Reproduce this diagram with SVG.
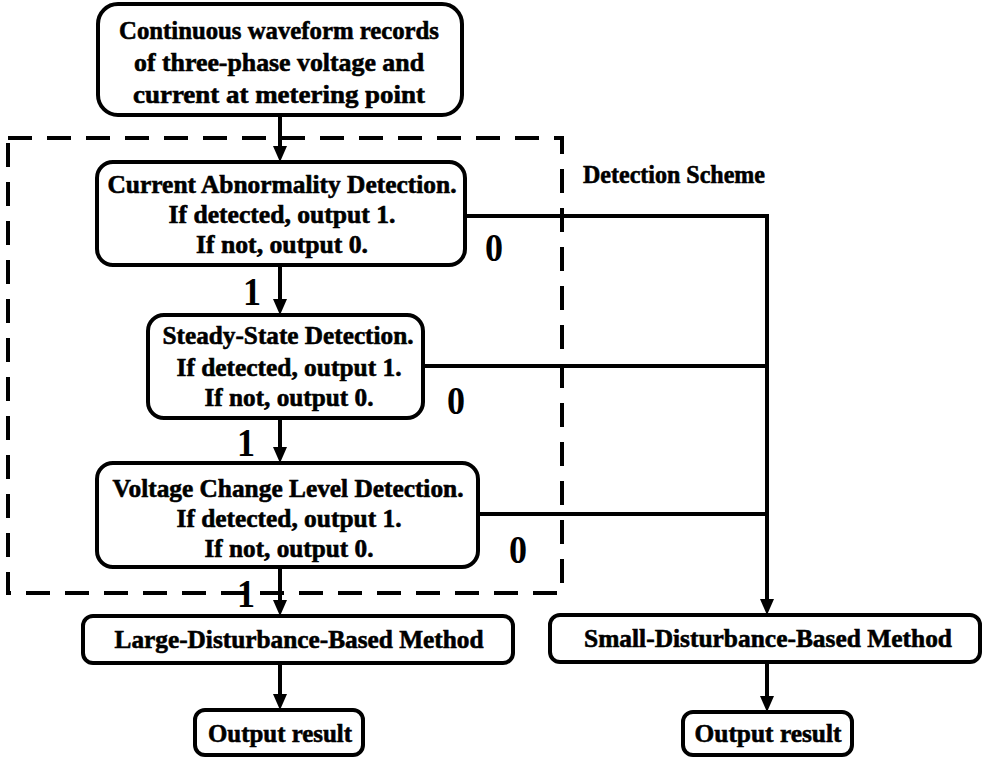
<svg xmlns="http://www.w3.org/2000/svg" width="983" height="757" viewBox="0 0 983 757">
<defs>
<style>
.box{fill:#fff;stroke:#000;stroke-width:4}
.t{font-family:"Liberation Serif","Times New Roman",serif;font-weight:bold;font-size:26px;fill:#000;stroke:#000;stroke-width:0.6;text-anchor:middle}
.lbl{font-family:"Liberation Serif","Times New Roman",serif;font-weight:bold;font-size:40px;fill:#000;text-anchor:middle}
.c{fill:none;stroke:#000;stroke-width:4}
.dash{fill:none;stroke:#000;stroke-width:4;stroke-dasharray:24 15}
</style>
<marker id="ah" viewBox="0 0 16 14" refX="10" refY="7" markerWidth="16" markerHeight="14" markerUnits="userSpaceOnUse" orient="auto">
<path d="M0,0 L16,7 L0,14 z" fill="#000"/>
</marker>
</defs>
<rect width="983" height="757" fill="#fff"/>
<g id="scheme">
<rect class="dash" x="8" y="138" width="554" height="455"/>
<text class="t" x="583" y="183" style="text-anchor:start" textLength="182" lengthAdjust="spacingAndGlyphs">Detection Scheme</text>
</g>
<g id="connectors">
<path class="c" d="M280,115 V156" marker-end="url(#ah)"/>
<path class="c" d="M280,265 V309" marker-end="url(#ah)"/>
<path class="c" d="M280,418 V457" marker-end="url(#ah)"/>
<path class="c" d="M280,567 V610" marker-end="url(#ah)"/>
<path class="c" d="M280,663 V704" marker-end="url(#ah)"/>
<path class="c" d="M465,216 H767 V609" marker-end="url(#ah)"/>
<path class="c" d="M423,366 H767"/>
<path class="c" d="M478,514 H767"/>
<path class="c" d="M767,662 V706" marker-end="url(#ah)"/>
<text class="lbl" x="494" y="261" textLength="18" lengthAdjust="spacingAndGlyphs">0</text>
<text class="lbl" x="456" y="414" textLength="18" lengthAdjust="spacingAndGlyphs">0</text>
<text class="lbl" x="518" y="563" textLength="18" lengthAdjust="spacingAndGlyphs">0</text>
<text class="lbl" x="252" y="305" textLength="18" lengthAdjust="spacingAndGlyphs">1</text>
<text class="lbl" x="246" y="456" textLength="18" lengthAdjust="spacingAndGlyphs">1</text>
<text class="lbl" x="246" y="607" textLength="18" lengthAdjust="spacingAndGlyphs">1</text>
</g>
<g id="input">
<rect class="box" x="98" y="4" width="364" height="111" rx="20"/>
<text class="t" x="279" y="39" textLength="320" lengthAdjust="spacingAndGlyphs">Continuous waveform records</text>
<text class="t" x="279" y="71" textLength="290" lengthAdjust="spacingAndGlyphs">of three-phase voltage and</text>
<text class="t" x="279" y="103" textLength="292" lengthAdjust="spacingAndGlyphs">current at metering point</text>
</g>
<g id="current">
<rect class="box" x="97" y="162" width="368" height="103" rx="16"/>
<text class="t" x="282" y="193" textLength="349" lengthAdjust="spacingAndGlyphs">Current Abnormality Detection.</text>
<text class="t" x="282" y="223" textLength="227" lengthAdjust="spacingAndGlyphs">If detected, output 1.</text>
<text class="t" x="282" y="253" textLength="172" lengthAdjust="spacingAndGlyphs">If not, output 0.</text>
</g>
<g id="steady">
<rect class="box" x="148" y="315" width="275" height="103" rx="16"/>
<text class="t" x="288" y="344" textLength="251" lengthAdjust="spacingAndGlyphs">Steady-State Detection.</text>
<text class="t" x="289" y="376" textLength="225" lengthAdjust="spacingAndGlyphs">If detected, output 1.</text>
<text class="t" x="289" y="406" textLength="169" lengthAdjust="spacingAndGlyphs">If not, output 0.</text>
</g>
<g id="voltage">
<rect class="box" x="97" y="463" width="381" height="104" rx="16"/>
<text class="t" x="288" y="497" textLength="351" lengthAdjust="spacingAndGlyphs">Voltage Change Level Detection.</text>
<text class="t" x="289" y="527" textLength="225" lengthAdjust="spacingAndGlyphs">If detected, output 1.</text>
<text class="t" x="289" y="557" textLength="169" lengthAdjust="spacingAndGlyphs">If not, output 0.</text>
</g>
<g id="large">
<rect class="box" x="83" y="616" width="430" height="47" rx="10"/>
<text class="t" x="299" y="648" textLength="369" lengthAdjust="spacingAndGlyphs">Large-Disturbance-Based Method</text>
</g>
<g id="small">
<rect class="box" x="550" y="615" width="430" height="47" rx="10"/>
<text class="t" x="768" y="647" textLength="368" lengthAdjust="spacingAndGlyphs">Small-Disturbance-Based Method</text>
</g>
<g id="out-left">
<rect class="box" x="195" y="710" width="168" height="45" rx="10"/>
<text class="t" x="280" y="742" textLength="144" lengthAdjust="spacingAndGlyphs">Output result</text>
</g>
<g id="out-right">
<rect class="box" x="683" y="712" width="169" height="43" rx="10"/>
<text class="t" x="768" y="742" textLength="147" lengthAdjust="spacingAndGlyphs">Output result</text>
</g>
</svg>
